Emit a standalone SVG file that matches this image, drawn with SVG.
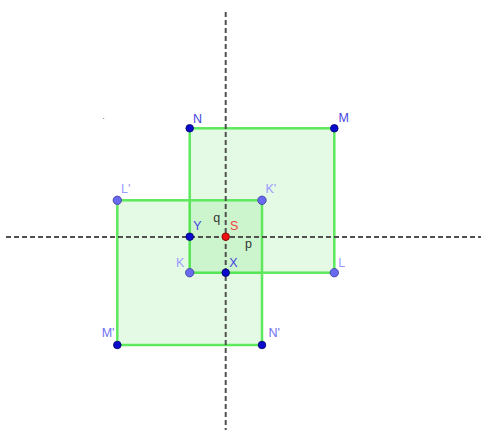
<svg xmlns="http://www.w3.org/2000/svg" width="481" height="430" viewBox="0 0 481 430">
<style>
.sq{fill:#00cc00;fill-opacity:0.1;stroke:#5ee85e;stroke-width:2.5}
.ax{stroke:#505050;stroke-width:2;stroke-dasharray:5 3;fill:none}
.pd{fill:#0a0acc;stroke:#000066;stroke-width:0.8}
.pl{fill:#6a6af0;stroke:#3a3a99;stroke-width:0.8}
text{font-family:"Liberation Sans",Arial,sans-serif;font-size:12.5px}
.ld{fill:#4545e0}
.ll{fill:#9a9aff}
.lm{fill:#7070f0}
</style>
<rect width="481" height="430" fill="#ffffff"/>
<rect x="103" y="118" width="1.2" height="1" fill="#999999"/>
<g id="square-KLMN"><rect class="sq" x="189.7" y="128.3" width="144.6" height="144.4"/></g>
<g id="square-KLMN-prime"><rect class="sq" x="117.3" y="200.3" width="144.7" height="144.7"/></g>
<g id="connectors">
<line class="ax" x1="225.7" y1="12" x2="225.7" y2="430"/>
<line class="ax" x1="6" y1="237" x2="481" y2="237"/>
</g>
<g id="N"><circle class="pd" cx="189.7" cy="128.3" r="3.8"/><text class="ld" x="193" y="123">N</text></g>
<g id="M"><circle class="pd" cx="334.3" cy="128.3" r="3.8"/><text class="ld" x="338.5" y="122">M</text></g>
<g id="L"><circle class="pl" cx="334.3" cy="272.7" r="4.2"/><text class="ll" x="338.3" y="266.7">L</text></g>
<g id="K"><circle class="pl" cx="189.7" cy="272.7" r="4.2"/><text class="ll" x="176" y="266.7">K</text></g>
<g id="X"><circle class="pd" cx="225.7" cy="272.7" r="3.8"/><text class="ld" x="229.3" y="266.7">X</text></g>
<g id="Y"><circle class="pd" cx="189.7" cy="236.7" r="3.8"/><text class="ld" x="193.3" y="230">Y</text></g>
<g id="S"><circle cx="225.7" cy="236.7" r="3.8" fill="#ee1111" stroke="#770000" stroke-width="0.8"/><text x="230" y="230" fill="#ee4444">S</text></g>
<g id="Lp"><circle class="pl" cx="117.3" cy="200.3" r="4.2"/><text class="ll" x="121" y="193">L'</text></g>
<g id="Kp"><circle class="pl" cx="262" cy="200.3" r="4.2"/><text class="ll" x="265.5" y="193.3">K'</text></g>
<g id="Mp"><circle class="pd" cx="117.3" cy="345" r="3.8"/><text class="lm" x="101.7" y="336.7">M'</text></g>
<g id="Np"><circle class="pd" cx="262" cy="345" r="3.8"/><text class="lm" x="268.5" y="337.2">N'</text></g>
<g id="q"><text x="213.3" y="221.7" fill="#333333">q</text></g>
<g id="p"><text x="245" y="248.3" fill="#333333">p</text></g>
</svg>
